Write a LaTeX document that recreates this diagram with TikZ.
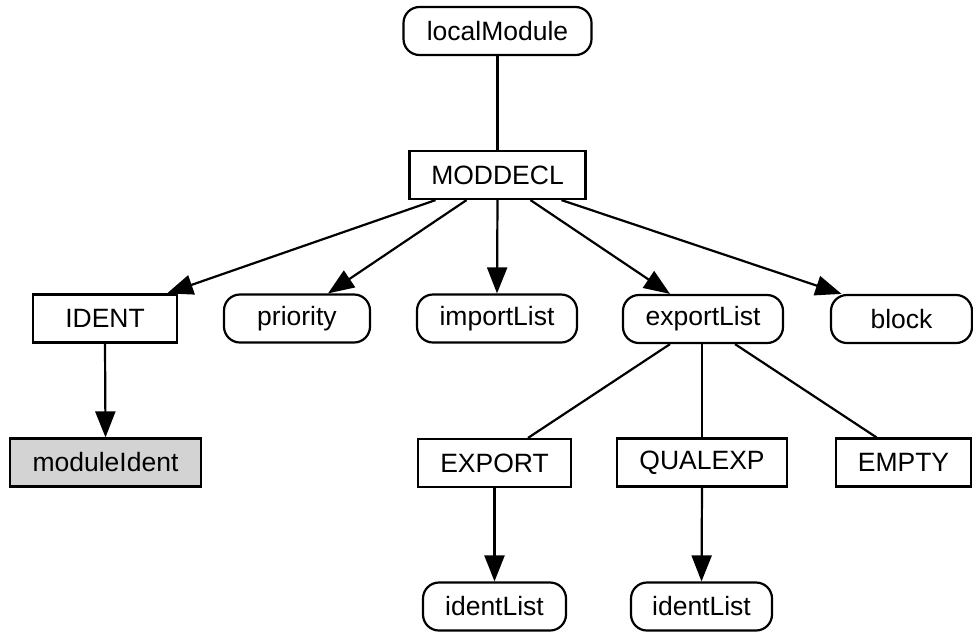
\documentclass[tikz,border=0pt]{standalone}
\usepackage{fontspec}
\setmainfont{Liberation Sans}
\usetikzlibrary{arrows.meta}
\definecolor{boxgray}{HTML}{D3D3D3}
\tikzset{
  base/.style={draw=black, line width=2.2pt, inner sep=0pt, minimum height=48pt, font=\fontsize{26.5}{30}\selectfont, text=black, anchor=center},
  rbox/.style={base, rounded corners=16pt},
  sbox/.style={base},
  conn/.style={line width=2.2pt, draw=black},
  arr/.style={conn, -{Triangle[length=26pt,width=20pt]}},
}
\begin{document}
\begin{tikzpicture}[x=1pt,y=-1pt]
\useasboundingbox (0,0) rectangle (973,633);
\node[rbox, minimum width=188pt] (lm) at (497.5,31) {localModule};
\node[sbox, minimum width=176pt] (md) at (497.5,175) {MODDECL};
\node[sbox, minimum width=144pt] (id) at (105,318.5) {IDENT};
\node[rbox, minimum width=146pt] (pr) at (297,318.5) {priority};
\node[rbox, minimum width=160pt] (il) at (497,318.5) {importList};
\node[rbox, minimum width=160pt] (el) at (703,319) {exportList};
\node[rbox, minimum width=141pt] (bl) at (901.5,319) {block};
\node[sbox, minimum width=191pt, fill=boxgray] (mi) at (105.5,462.5) {moduleIdent};
\node[sbox, minimum width=153pt] (ex) at (494.5,463) {EXPORT};
\node[sbox, minimum width=170pt] (qe) at (702,462.5) {QUALEXP};
\node[sbox, minimum width=135pt] (em) at (903.5,462.5) {EMPTY};
\node[rbox, minimum width=143pt] (i1) at (494.5,606.5) {identList};
\node[rbox, minimum width=141pt] (i2) at (701.5,606.5) {identList};

\draw[conn] (lm.south) -- (md.north);
\draw[arr] ([xshift=-62pt]md.south) -- ([xshift=62pt]id.north);
\draw[arr] ([xshift=-31pt]md.south) -- ([xshift=31pt]pr.north);
\draw[arr] (md.south) -- (il.north);
\draw[arr] ([xshift=33pt]md.south) -- ([xshift=-33pt]el.north);
\draw[arr] ([xshift=64pt]md.south) -- ([xshift=-60pt]bl.north);
\draw[arr] (id.south) -- (mi.north);
\draw[conn] ([xshift=-33pt]el.south) -- ([xshift=33.5pt]ex.north);
\draw[conn] ([xshift=-1pt]el.south) -- (qe.north);
\draw[conn] ([xshift=32pt]el.south) -- ([xshift=-27pt]em.north);
\draw[arr] (ex.south) -- (i1.north);
\draw[arr] (qe.south) -- (i2.north);
\end{tikzpicture}
\end{document}
